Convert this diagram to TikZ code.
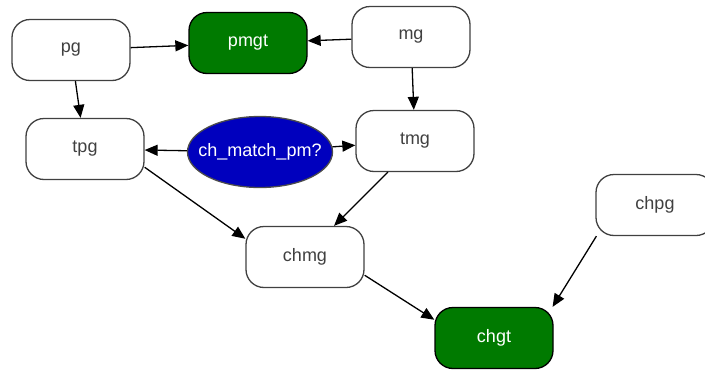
\documentclass[tikz,border=0pt]{standalone}
\usepackage{fontspec}
\setmainfont{Liberation Sans}
\usetikzlibrary{arrows.meta,shapes.geometric}
\definecolor{goalgreen}{RGB}{0,122,0}
\definecolor{testblue}{RGB}{0,0,190}

\begin{document}
\begin{tikzpicture}[x=1pt, y=-1pt, >={Triangle[length=13pt,width=11pt]},
  line width=1.3pt,
  every node/.style={font=\fontsize{18}{21}\selectfont, line width=1.3pt},
  goal/.style={draw=black!75, rounded corners=18pt, minimum width=118pt, minimum height=61pt, inner sep=0pt, text=black!75},
  done/.style={goal, fill=goalgreen, draw=black, text=white},
  test/.style={ellipse, draw=black!70, fill=testblue, text=white, minimum width=145pt, minimum height=71pt, inner xsep=-11pt, inner ysep=0pt}]
  \useasboundingbox (0,0) rectangle (705,370);
  \node[goal] (pg) at (71,50) {pg};
  \node[done] (pmgt) at (248,43) {pmgt};
  \node[goal] (mg) at (411,37) {mg};
  \node[goal] (tpg) at (85,149) {tpg};
  \node[test] (chm) at (260,152) {ch\_match\_pm?};
  \node[goal] (tmg) at (415,141) {tmg};
  \node[goal] (chpg) at (655,205) {chpg};
  \node[goal] (chmg) at (305,257) {chmg};
  \node[done] (chgt) at (494,338) {chgt};
  \draw[->] (pg)--(pmgt);
  \draw[->] (mg)--(pmgt);
  \draw[->] (pg)--(tpg);
  \draw[->] (mg)--(tmg);
  \draw[->] (chm)--(tpg);
  \draw[->] (chm)--(tmg);
  \draw[->] (tpg.-17)--(chmg.163);
  \draw[->] (tmg.-131)--(chmg.47);
  \draw[->] (chmg.-17)--(chgt.163);
  \draw[->] (chpg.-152)--(chgt.28);
\end{tikzpicture}
\end{document}
